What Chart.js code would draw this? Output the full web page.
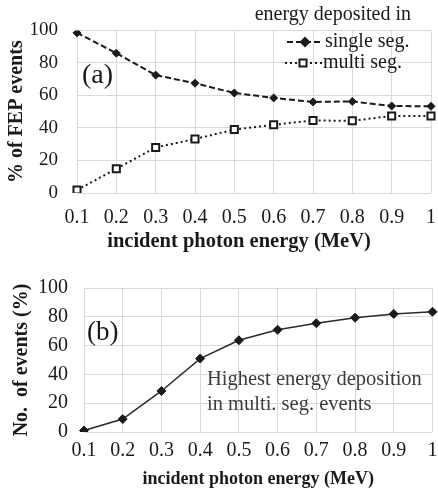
<!DOCTYPE html>
<html>
<head>
<meta charset="utf-8">
<script src="https://cdn.jsdelivr.net/npm/chart.js@4"></script>
<style>
  body { margin: 0; background: #fff; }
  .box { position: absolute; left: 0; width: 438px; }
  #boxA { top: 0; height: 256px; }
  #boxB { top: 256px; height: 241px; }
</style>
</head>
<body>
<div class="box" id="boxA"><canvas id="chartA"></canvas></div>
<div class="box" id="boxB"><canvas id="chartB"></canvas></div>
<script>
const ENERGIES = ["0.1", "0.2", "0.3", "0.4", "0.5", "0.6", "0.7", "0.8", "0.9", "1"];
const SINGLE_SEG = [98.5, 86, 72.5, 67.5, 61.5, 58.5, 56, 56.3, 53.5, 53.3];
const MULTI_SEG = [1.8, 14.9, 28, 33.2, 39, 42, 44.6, 44.4, 47.4, 47.4];
const HIGHEST_MULTI = [1, 9, 28.5, 51, 63.7, 71, 75.5, 79.4, 82, 83.5];
const Y_TICKS = [0, 20, 40, 60, 80, 100];
const X_TITLE = "incident photon energy (MeV)";

const SERIF = "'Liberation Serif', 'Times New Roman', serif";
const INK = "#1a1a1a";
const GRID = "#d9d9d9";

Chart.defaults.font.family = SERIF;
Chart.defaults.color = INK;

function scales(o) {
  return {
    x: {
      type: "category",
      offset: false,
      grid: { color: GRID, drawTicks: false },
      border: { display: false },
      ticks: { padding: o.xPad, font: { size: 20 }, color: INK, maxRotation: 0, autoSkip: false },
      title: { display: o.xTitleShow, text: X_TITLE, font: { size: o.xTitleSize, weight: "bold" }, color: INK, padding: { top: 0, bottom: o.xTitleBottom } },
      afterFit: (s) => {
        s.height = o.xHeight;
        // keep the plot edges where the layout padding puts them
        s.paddingLeft = 0;
        s.paddingRight = 0;
      }
    },
    y: {
      min: 0, max: 100,
      grid: { color: GRID, drawTicks: false },
      border: { display: false },
      afterBuildTicks: (s) => { s.ticks = Y_TICKS.map((v) => ({ value: v })); },
      ticks: { padding: o.yPad, font: { size: o.yTickSize }, color: INK },
      title: { display: true, text: o.yTitle, font: { size: 20, weight: "bold" }, color: INK, padding: { top: o.yTitlePad, bottom: 0 } },
      afterFit: (s) => { s.width = o.yWidth; }
    }
  };
}

// text drawn over the plots: panel letters, legend, note
const overlayA = {
  id: "overlayA",
  afterDraw(chart) {
    const ctx = chart.ctx;
    ctx.save();
    ctx.fillStyle = INK;
    ctx.textBaseline = "middle";
    ctx.font = "28px " + SERIF;
    ctx.fillText("(a)", 82, 76);
    // x title of panel (a) sits left of the plot centre in the original
    ctx.font = "bold 20.5px " + SERIF;
    ctx.textAlign = "center";
    ctx.fillText(X_TITLE, 239, 242);
    ctx.font = "20px " + SERIF;
    ctx.textAlign = "right";
    ctx.fillText("energy deposited in", 411, 15);
    ctx.textAlign = "left";
    ctx.fillText("single seg.", 325, 42);
    ctx.fillText("multi seg.", 323, 63);
    ctx.strokeStyle = INK;
    ctx.lineWidth = 2;
    ctx.setLineDash([6, 3]);
    ctx.beginPath(); ctx.moveTo(287, 42); ctx.lineTo(322, 42); ctx.stroke();
    ctx.setLineDash([2, 3]);
    ctx.beginPath(); ctx.moveTo(285, 63); ctx.lineTo(322, 63); ctx.stroke();
    ctx.setLineDash([]);
    Chart.helpers.drawPoint(ctx, { pointStyle: "rectRot", radius: 4, borderWidth: 1 }, 305, 42);
    ctx.fillStyle = INK;
    ctx.fill();
    ctx.fillStyle = "#fff";
    ctx.lineWidth = 2;
    Chart.helpers.drawPoint(ctx, { pointStyle: "rect", radius: 5, borderWidth: 2 }, 303, 63);
    ctx.restore();
  }
};

const overlayB = {
  id: "overlayB",
  afterDraw(chart) {
    const ctx = chart.ctx;
    ctx.save();
    ctx.fillStyle = INK;
    ctx.textBaseline = "middle";
    ctx.font = "27px " + SERIF;
    ctx.fillText("(b)", 87, 77);
    ctx.fillStyle = "#3c3c3c";
    ctx.font = "20.5px " + SERIF;
    ctx.fillText("Highest energy deposition", 207, 124);
    ctx.fillText("in multi. seg. events", 207, 149);
    ctx.restore();
  }
};

new Chart(document.getElementById("chartA"), {
  type: "line",
  data: {
    labels: ENERGIES,
    datasets: [
      {
        label: "single seg.",
        data: SINGLE_SEG,
        borderColor: INK, borderWidth: 2, borderDash: [6, 3],
        pointStyle: "rectRot", pointRadius: 4, pointBackgroundColor: INK, pointBorderColor: INK, pointBorderWidth: 1,
        tension: 0
      },
      {
        label: "multi seg.",
        data: MULTI_SEG,
        borderColor: INK, borderWidth: 2, borderDash: [2, 3],
        pointStyle: "rect", pointRadius: 5, pointBackgroundColor: "#fff", pointBorderColor: INK, pointBorderWidth: 2,
        tension: 0
      }
    ]
  },
  options: {
    responsive: true,
    maintainAspectRatio: false,
    animation: false,
    layout: { padding: { left: 0, right: 6, top: 25, bottom: 0 } },
    plugins: { legend: { display: false }, tooltip: { enabled: false } },
    scales: scales({ xPad: 13, xTitleShow: false, xTitleSize: 20, xTitleBottom: 1, xHeight: 63, yPad: 19, yTickSize: 19, yTitle: "% of FEP events", yTitlePad: 5, yWidth: 77 })
  },
  plugins: [overlayA]
});

new Chart(document.getElementById("chartB"), {
  type: "line",
  data: {
    labels: ENERGIES,
    datasets: [
      {
        label: "highest energy deposition",
        data: HIGHEST_MULTI,
        borderColor: "#2a2a2a", borderWidth: 1.5,
        pointStyle: "rectRot", pointRadius: 4.5, pointBackgroundColor: INK, pointBorderColor: INK, pointBorderWidth: 1,
        tension: 0
      }
    ]
  },
  options: {
    responsive: true,
    maintainAspectRatio: false,
    animation: false,
    layout: { padding: { left: 0, right: 3, top: 32, bottom: 0 } },
    plugins: { legend: { display: false }, tooltip: { enabled: false } },
    scales: scales({ xPad: 7, xTitleShow: true, xTitleSize: 18, xTitleBottom: 7, xHeight: 65, yPad: 16, yTickSize: 20, yTitle: "No.  of events (%)", yTitlePad: 10, yWidth: 84 })
  },
  plugins: [overlayB]
});
</script>
</body>
</html>
